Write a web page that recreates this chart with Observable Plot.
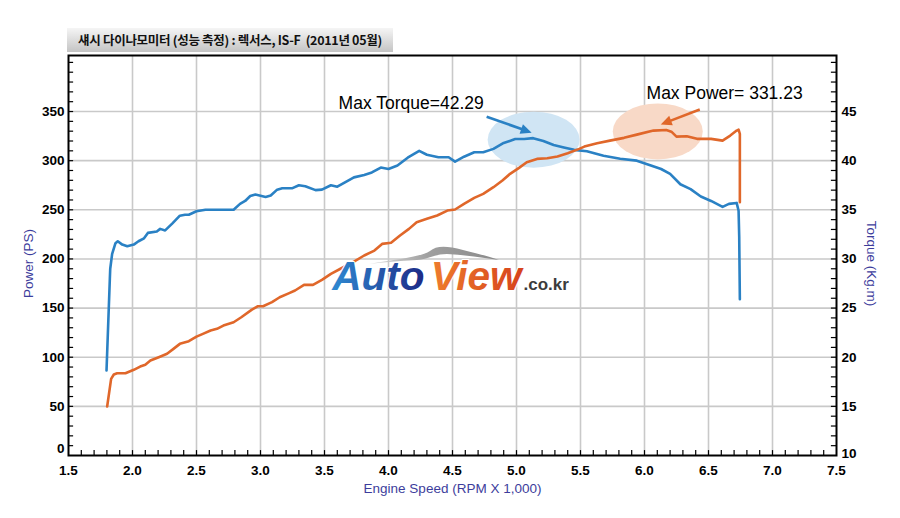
<!DOCTYPE html>
<html><head><meta charset="utf-8">
<script src="https://cdn.jsdelivr.net/npm/d3@7"></script>
<script src="https://cdn.jsdelivr.net/npm/@observablehq/plot@0.6"></script>
<style>
body{margin:0;background:#fff;width:900px;height:518px;overflow:hidden;}
#head{position:relative;height:50px;}
#title{position:absolute;z-index:2;left:67px;top:28px;width:326px;height:24px;background:linear-gradient(#f5f5f5,#c4c4c4);font:bold 12.5px "Noto Sans CJK KR",sans-serif;line-height:24px;text-align:center;color:#111;white-space:pre;letter-spacing:-0.3px;}
#chart svg{display:block}
</style></head><body>
<div id="head"><div id="title">섀시 다이나모미터 (성능 측정) : 렉서스, IS-F  (2011년 05월)</div></div>
<div id="chart"></div>
<script>
// ---- data ----
const rpmTorque = [1.797,1.823,1.826,1.841,1.867,1.885,1.92,1.959,2.01,2.047,2.09,2.12,2.19,2.216,2.255,2.31,2.37,2.41,2.44,2.50,2.57,2.67,2.79,2.84,2.88,2.92,2.96,3.04,3.08,3.13,3.17,3.25,3.30,3.35,3.43,3.48,3.55,3.60,3.66,3.73,3.81,3.87,3.94,4.00,4.07,4.15,4.24,4.30,4.39,4.47,4.52,4.59,4.67,4.74,4.82,4.90,4.99,5.06,5.13,5.21,5.29,5.37,5.45,5.55,5.68,5.81,5.94,6.05,6.13,6.20,6.28,6.36,6.44,6.52,6.61,6.66,6.72,6.735,6.74,6.745];
const torque    = [18.65,27.98,29.0,30.52,31.6,31.8,31.46,31.29,31.46,31.8,32.1,32.65,32.8,33.06,32.9,33.6,34.4,34.5,34.5,34.85,35.0,35.0,35.0,35.6,35.9,36.4,36.55,36.3,36.45,37.05,37.2,37.2,37.5,37.4,37.0,37.05,37.5,37.35,37.8,38.3,38.55,38.8,39.3,39.15,39.5,40.3,41.0,40.6,40.35,40.35,39.9,40.4,40.85,40.85,41.2,41.8,42.2,42.2,42.29,42.0,41.6,41.35,41.1,40.95,40.5,40.2,40.0,39.5,39.15,38.65,37.6,37.1,36.35,35.9,35.3,35.6,35.7,34.9,32.2,25.9];
const rpmPower  = [1.802,1.833,1.854,1.88,1.945,2.01,2.06,2.10,2.14,2.205,2.27,2.32,2.37,2.44,2.50,2.55,2.61,2.66,2.71,2.79,2.85,2.93,2.98,3.02,3.09,3.15,3.22,3.27,3.34,3.41,3.48,3.55,3.625,3.73,3.81,3.89,3.95,4.02,4.09,4.16,4.22,4.30,4.38,4.46,4.52,4.59,4.67,4.74,4.82,4.89,4.95,5.02,5.08,5.16,5.24,5.32,5.40,5.49,5.53,5.63,5.73,5.84,5.94,6.07,6.17,6.21,6.25,6.33,6.41,6.52,6.61,6.67,6.72,6.735,6.745,6.745];
const power     = [49.8,78,82.4,83.7,83.7,87.2,90.5,92.3,96.6,100,103.5,108.5,113.6,116.3,121,123.8,127.2,128.9,132.2,135.6,140.7,148.2,151.9,151.9,156,161,165,167.9,173.6,173.6,178.7,184.8,190,197.3,203.5,208.5,215.3,216.4,223.8,230.6,237.4,240.8,244.2,249.2,250.3,256,262.1,266.2,273,279.8,286.6,292.7,298.4,301.8,302.5,304.2,307.5,312,314.3,317.7,320.4,323.2,326.5,330.6,331.23,329.5,324.5,324.8,322.2,322.2,320.4,325.5,330.6,331.5,327.2,257.7];
const rpmTicks    = [1.5,2.0,2.5,3.0,3.5,4.0,4.5,5.0,5.5,6.0,6.5,7.0,7.5];
const powerTicks  = [0,50,100,150,200,250,300,350];
const torqueTicks = [10,15,20,25,30,35,40,45];
const maxTorque = {rpm: 5.13, value: 42.29, label: "Max Torque=42.29"};
const maxPower  = {rpm: 6.17, value: 331.23, label: "Max Power= 331.23"};

// torque (Kg.m) shares the frame: 10 Kg.m <-> 0 PS, 1 Kg.m = 10 PS
const tq = t => (t - 10) * 10;
const torqueRows = rpmTorque.map((r, i) => ({rpm: r, v: tq(torque[i])}));
const powerRows  = rpmPower.map((r, i) => ({rpm: r, v: power[i]}));

const BLUE = "#2a81c4", ORANGE = "#e0672a", LABEL = "#3d3d9c";
const SANS = "'Liberation Sans',Arial,sans-serif";

const minorP = d3.range(10, 401, 10);
const minorT = d3.range(10, 401, 10);
const minorX = d3.range(16, 75).map(d => d / 10);

function highlightsUnder(index, {x, y}) {
  const g = d3.create("svg:g");
  const t = [x(maxTorque.rpm), y(tq(maxTorque.value))];
  const p = [x(maxPower.rpm), y(maxPower.value)];
  g.append("ellipse").attr("cx", t[0] + 1).attr("cy", t[1] + 2)
    .attr("rx", 46).attr("ry", 28).attr("fill", "#d0e5f4");
  g.append("ellipse").attr("cx", p[0] - 8).attr("cy", p[1] + 2)
    .attr("rx", 45).attr("ry", 28).attr("fill", "#f8d9c7");
  return g.node();
}

function arrow(g, x1, y1, x2, y2, color) {
  const dx = x2 - x1, dy = y2 - y1, L = Math.hypot(dx, dy);
  const ux = dx / L, uy = dy / L, hl = 11, hw = 5;
  const bx = x2 - ux * hl, by = y2 - uy * hl;
  g.append("line").attr("x1", x1).attr("y1", y1).attr("x2", bx + ux).attr("y2", by + uy)
    .attr("stroke", color).attr("stroke-width", 2.6);
  g.append("path").attr("d", `M${x2},${y2}L${bx - uy * hw},${by + ux * hw}L${bx + uy * hw},${by - ux * hw}Z`)
    .attr("fill", color);
}

function highlightsOver(index, {x, y}) {
  const g = d3.create("svg:g");
  const t = [x(maxTorque.rpm), y(tq(maxTorque.value))];
  const p = [x(maxPower.rpm), y(maxPower.value)];
  arrow(g, t[0] - 46, t[1] - 21, t[0] - 1, t[1] - 5, BLUE);
  arrow(g, p[0] + 34, p[1] - 20, p[0] - 5, p[1] - 5, ORANGE);
  // logo defs + swoosh
  const defs = g.append("defs");
  const ga = defs.append("linearGradient").attr("id", "gAuto");
  ga.append("stop").attr("offset", "0%").attr("stop-color", "#2f8ad2");
  ga.append("stop").attr("offset", "100%").attr("stop-color", "#1d2a86");
  const gv = defs.append("linearGradient").attr("id", "gView");
  gv.append("stop").attr("offset", "0%").attr("stop-color", "#ee7d2d");
  gv.append("stop").attr("offset", "100%").attr("stop-color", "#d6421c");
  const gs = defs.append("linearGradient").attr("id", "gSw");
  gs.append("stop").attr("offset", "0%").attr("stop-color", "#dcdcdc");
  gs.append("stop").attr("offset", "45%").attr("stop-color", "#a0a0a0");
  gs.append("stop").attr("offset", "100%").attr("stop-color", "#8a8a8a");
  const ax = x(3.57), ay = y(167.9);
  g.append("path").attr("transform", `translate(${ax},${ay})`)
    .attr("d", "M36,-26 C65,-31 88,-33 97,-39 C103,-44 112,-45 130,-40 C147,-36 157,-33 166,-30 C150,-32 132,-35 114,-36 C102,-36 96,-31 84,-30 C66,-29 50,-28 36,-26 Z")
    .attr("fill", "url(#gSw)");
  return g.node();
}

const tickFont = {fontSize: 13.5, fontWeight: "bold", fontFamily: SANS};

const chart = Plot.plot({
  width: 900, height: 468,
  marginTop: 5, marginBottom: 63, marginLeft: 68, marginRight: 64,
  x: {domain: [1.5, 7.5]},
  y: {domain: [0, 407]},
  style: {background: "white", color: "black", fontFamily: SANS},
  marks: [
    Plot.ruleX(rpmTicks.slice(1, -1), {stroke: "#c9c9c9", strokeWidth: 1.6}),
    Plot.ruleY(powerTicks.slice(1), {stroke: "#c9c9c9", strokeWidth: 1.6}),
    highlightsUnder,
    Plot.line(torqueRows, {x: "rpm", y: "v", stroke: BLUE, strokeWidth: 2.6}),
    Plot.line(powerRows, {x: "rpm", y: "v", stroke: ORANGE, strokeWidth: 2.6}),
    highlightsOver,
    Plot.text([maxTorque], {x: () => 3.61, y: () => 353, text: "label", textAnchor: "start", lineAnchor: "bottom",
      fontSize: 17.5, fontFamily: SANS, fill: "black"}),
    Plot.text([maxPower], {x: () => 6.016, y: () => 362.9, text: "label", textAnchor: "start", lineAnchor: "bottom",
      fontSize: 17.5, fontFamily: SANS, fill: "black"}),
    Plot.text(["Auto"], {x: () => 3.56, y: () => 167.9, text: d => d, textAnchor: "start", lineAnchor: "bottom",
      fontSize: 40.5, fontWeight: 900, fontStyle: "italic", fontFamily: SANS,
      fill: "url(#gAuto)", stroke: "white", strokeWidth: 2, paintOrder: "stroke"}),
    Plot.text(["View"], {x: () => 4.33, y: () => 167.9, text: d => d, textAnchor: "start", lineAnchor: "bottom",
      fontSize: 40.5, fontWeight: 900, fontStyle: "italic", fontFamily: SANS,
      fill: "url(#gView)", stroke: "white", strokeWidth: 2, paintOrder: "stroke"}),
    Plot.text([".co.kr"], {x: () => 5.055, y: () => 167.9, text: d => d, textAnchor: "start", lineAnchor: "bottom",
      fontSize: 17, fontWeight: "bold", fontFamily: SANS, fill: "#3c3c3c"}),
    Plot.frame({stroke: "black", strokeWidth: 2}),
    Plot.ruleY(minorP, {x1: 1.5, x2: 1.54, stroke: "black", strokeWidth: 1.2}),
    Plot.ruleY(minorT, {x1: 7.46, x2: 7.5, stroke: "black", strokeWidth: 1.2}),
    Plot.ruleX(minorX, {y1: 0, y2: 5, stroke: "black", strokeWidth: 1.2}),
    Plot.axisX({ticks: rpmTicks, tickSize: 0, tickPadding: 10, tickFormat: d3.format(".1f"), label: null, ...tickFont}),
    Plot.axisY({ticks: powerTicks.slice(1), tickSize: 0, tickPadding: 4, label: null, ...tickFont}),
    Plot.axisY({ticks: [0], tickSize: 0, tickPadding: 4, dy: -7, label: null, ...tickFont}),
    Plot.axisY({anchor: "right", ticks: torqueTicks.slice(1).map(tq), tickFormat: d => d / 10 + 10, tickSize: 0, tickPadding: 5, label: null, ...tickFont}),
    Plot.axisY({anchor: "right", ticks: [tq(torqueTicks[0])], tickFormat: d => d / 10 + 10, tickSize: 0, tickPadding: 5, dy: -2, label: null, ...tickFont}),
    Plot.text(["Power (PS)"], {frameAnchor: "left", textAnchor: "middle", text: d => d, rotate: -90, dx: -40, dy: 8,
      fontSize: 13.5, fill: LABEL, fontFamily: SANS}),
    Plot.text(["Torque (Kg.m)"], {frameAnchor: "right", textAnchor: "middle", text: d => d, rotate: 90, dx: 35, dy: 8,
      fontSize: 13.5, fill: LABEL, fontFamily: SANS}),
    Plot.text(["Engine Speed (RPM X 1,000)"], {frameAnchor: "bottom", text: d => d, dy: 37,
      fontSize: 13.5, fill: LABEL, fontFamily: SANS})
  ]
});
document.getElementById("chart").append(chart);
</script></body></html>
